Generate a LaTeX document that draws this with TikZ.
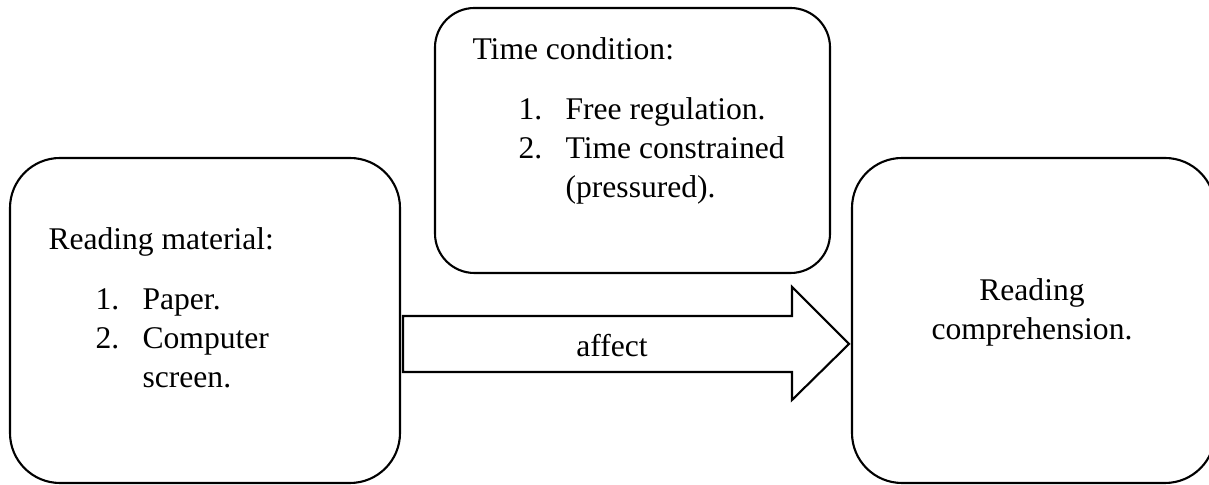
\documentclass[tikz,border=0pt]{standalone}
\usepackage{fontspec}
\setmainfont{Liberation Serif}
\tikzset{
  box/.style={draw, line width=0.8pt, rounded corners=#1},
  txt/.style={inner sep=0pt, anchor=base west},
  itemlist/.style={inner sep=0pt, anchor=base west},
}
\newcommand{\numlist}[1]{\begin{tabular}[t]{@{}l@{\hspace{8.9pt}}l@{}}#1\end{tabular}}

\begin{document}
\begin{tikzpicture}[x=0.38pt, y=-0.38pt, font=\fontsize{12}{14.8}\selectfont]
			%%%%% START %%%%%
			\useasboundingbox (0,0) rectangle (1209,485);
			
			% time condition
			\draw[box=15pt] (435, 8) rectangle (830, 273);
			\node[txt] (timehead) at (472, 60) {Time condition:};
			\node[itemlist] (timelist) at (518, 120) {\numlist{1. & Free regulation.\\ 2. & Time constrained\\ & (pressured).}};
			
			% reading material
			\draw[box=19pt] (10, 158) rectangle (400, 483);
			\node[txt] (mathead) at (48, 250) {Reading material:};
			\node[itemlist] (matlist) at (95, 310) {\numlist{1. & Paper.\\ 2. & Computer\\ & screen.}};
			
			% reading comprehension
			\draw[box=19pt] (852, 158) rectangle (1215, 483);
			\node[inner sep=0pt, anchor=base] (comp) at (1032, 301) {\begin{tabular}[t]{@{}c@{}}Reading\\ comprehension.\end{tabular}};
			
			% block arrow
			\draw[line width=0.8pt] (403, 316) -- (792, 316) -- (792, 287) -- (849, 344) -- (792, 400) -- (792, 372) -- (403, 372) -- cycle;
			\node[inner sep=0pt, anchor=base] (affect) at (612, 357) {affect};
			
			%%%%% END %%%%%
		\end{tikzpicture}
\end{document}
